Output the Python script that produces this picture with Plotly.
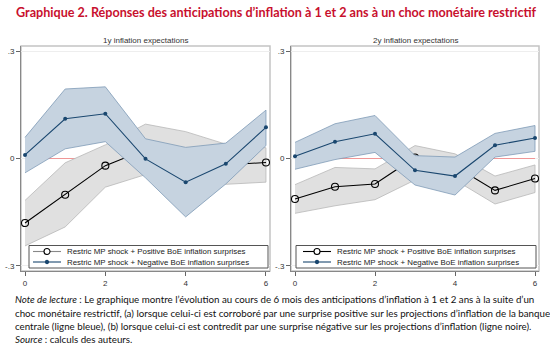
import plotly.graph_objects as go

W, H = 550, 353

horizon = [0, 1, 2, 3, 4, 5, 6]

# 1y inflation expectations
pos1_mean = [-0.180, -0.101, -0.020, 0.025, 0.005, -0.018, -0.011]
pos1_up = [-0.117, -0.012, 0.038, 0.096, 0.075, 0.040, 0.030]
pos1_lo = [-0.244, -0.191, -0.080, -0.045, -0.065, -0.072, -0.066]
neg1_mean = [0.010, 0.111, 0.125, -0.001, -0.066, -0.015, 0.087]
neg1_up = [0.059, 0.194, 0.200, 0.055, 0.031, 0.043, 0.135]
neg1_lo = [-0.040, 0.027, 0.047, -0.054, -0.163, -0.071, 0.036]

# 2y inflation expectations
pos2_mean = [-0.113, -0.079, -0.071, 0.003, -0.022, -0.089, -0.056]
pos2_up = [-0.073, -0.025, -0.029, 0.036, 0.013, -0.049, -0.018]
pos2_lo = [-0.153, -0.132, -0.115, -0.060, -0.060, -0.127, -0.095]
neg2_mean = [0.0065, 0.047, 0.069, -0.033, -0.049, 0.037, 0.057]
neg2_up = [0.045, 0.097, 0.120, 0.008, 0.004, 0.070, 0.092]
neg2_lo = [-0.030, -0.003, 0.017, -0.074, -0.102, 0.004, 0.020]

ytick_vals = [-0.3, 0, 0.3]
ytick_text = ["-.3", "0", ".3"]
xtick_vals = [0, 2, 4, 6]

panel_titles = ["1y inflation expectations", "2y inflation expectations"]
name_pos = "Restric MP shock + Positive BoE inflation surprises"
name_neg = "Restric MP shock + Negative BoE inflation surprises"

title_text = "Graphique 2. Réponses des anticipations d’inflation à 1 et 2 ans à un choc monétaire restrictif"
note_lines = [
    "<i>Note de lecture</i> : Le graphique montre l’évolution au cours de 6 mois des anticipations d’inflation à 1 et 2 ans à la suite d’un",
    "choc monétaire restrictif, (a) lorsque celui-ci est corroboré par une surprise positive sur les projections d’inflation de la banque",
    "centrale (ligne bleue), (b) lorsque celui-ci est contredit par une surprise négative sur les projections d’inflation (ligne noire).",
    "<i>Source</i> : calculs des auteurs.",
]

BLUE = "#1a476f"
BLUE_FILL = "#c6d3e0"
BLUE_EDGE = "#7f9bb6"
GRAY_FILL = "#e0e0e0"
GRAY_EDGE = "#b8b8b8"
AXFONT = dict(family="Liberation Sans, Arial", size=8, color="#333333")

fig = go.Figure()

panels = [
    (pos1_mean, pos1_up, pos1_lo, neg1_mean, neg1_up, neg1_lo, "x", "y"),
    (pos2_mean, pos2_up, pos2_lo, neg2_mean, neg2_up, neg2_lo, "x2", "y2"),
]

for pm, pu, pl, nm, nu, nl, xa, ya in panels:
    fig.add_trace(go.Scatter(x=[horizon[0], horizon[-1]], y=[0, 0], mode="lines",
                             line=dict(color="#f08080", width=0.8), showlegend=False,
                             xaxis=xa, yaxis=ya, hoverinfo="skip"))
    fig.add_trace(go.Scatter(x=horizon + horizon[::-1], y=pu + pl[::-1], fill="toself",
                             fillcolor=GRAY_FILL, mode="lines",
                             line=dict(color=GRAY_EDGE, width=0.8), showlegend=False,
                             xaxis=xa, yaxis=ya, hoverinfo="skip"))
    fig.add_trace(go.Scatter(x=horizon, y=pm, mode="lines+markers", name=name_pos,
                             line=dict(color="black", width=1.1),
                             marker=dict(symbol="circle-open", size=7, color="black",
                                         line=dict(width=1.1)),
                             showlegend=False, xaxis=xa, yaxis=ya))
    fig.add_trace(go.Scatter(x=horizon + horizon[::-1], y=nu + nl[::-1], fill="toself",
                             fillcolor=BLUE_FILL, mode="lines",
                             line=dict(color=BLUE_EDGE, width=0.8), showlegend=False,
                             xaxis=xa, yaxis=ya, hoverinfo="skip"))
    fig.add_trace(go.Scatter(x=horizon, y=nm, mode="lines+markers", name=name_neg,
                             line=dict(color=BLUE, width=1.1),
                             marker=dict(symbol="circle", size=4, color=BLUE),
                             showlegend=False, xaxis=xa, yaxis=ya))

left_dom = [21 / W, 270 / W]
right_dom = [291 / W, 539 / W]
ydom = [1 - 271 / H, 1 - 46 / H]

xcommon = dict(range=[-0.1, 6.1], tickvals=xtick_vals, ticks="outside", ticklen=4,
               tickcolor="#666666", tickfont=AXFONT, showgrid=False, zeroline=False,
               showline=True, linecolor="#888888", linewidth=1)
ycommon = dict(range=[-0.314, 0.314], tickvals=ytick_vals, ticktext=ytick_text,
               ticks="outside", ticklen=4, tickcolor="#666666", tickfont=AXFONT,
               showgrid=True, gridcolor="#eeeeee", gridwidth=1, zeroline=False,
               showline=True, linecolor="#888888", linewidth=1)

fig.update_layout(
    width=W, height=H,
    margin=dict(l=0, r=0, t=0, b=0),
    paper_bgcolor="white", plot_bgcolor="white",
    showlegend=False,
    xaxis=dict(domain=left_dom, anchor="y", **xcommon),
    yaxis=dict(domain=ydom, anchor="x", **ycommon),
    xaxis2=dict(domain=right_dom, anchor="y2", **xcommon),
    yaxis2=dict(domain=ydom, anchor="x2", **ycommon),
)

def px(x):
    return x / W

def py(y):
    return 1 - y / H

# light frame around each plot region
for xr, yr in [("x domain", "y domain"), ("x2 domain", "y2 domain")]:
    fig.add_shape(type="rect", xref=xr, yref=yr, x0=0, x1=1, y0=0, y1=1,
                  line=dict(color="#c4c4c4", width=1.5), layer="below")

# manual legends (compact, Stata-like)
LEGFONT = dict(family="Liberation Sans, Arial", size=7.9, color="#222222")
for bx0, bx1, k0, k1, tx, key_line_col in [(29, 268, 33, 61, 66, "#888888"),
                                           (296, 536, 303, 331, 336, "black")]:
    fig.add_shape(type="rect", xref="paper", yref="paper", x0=px(bx0), x1=px(bx1),
                  y0=py(268), y1=py(245.5), fillcolor="white",
                  line=dict(color="#555555", width=1))
    km = (k0 + k1) / 2
    for row_y, col, name, hollow in [(251.5, key_line_col, name_pos, True),
                                     (262, BLUE, name_neg, False)]:
        fig.add_shape(type="line", xref="paper", yref="paper", x0=px(k0), x1=px(k1),
                      y0=py(row_y), y1=py(row_y), line=dict(color=col, width=1.1))
        r = 3.0 if hollow else 1.6
        fig.add_shape(type="circle", xref="paper", yref="paper",
                      x0=px(km - r), x1=px(km + r), y0=py(row_y + r), y1=py(row_y - r),
                      fillcolor="white" if hollow else BLUE,
                      line=dict(color="black" if hollow else BLUE, width=1.1))
        fig.add_annotation(text=name, x=px(tx), y=py(row_y), xref="paper",
                           yref="paper", showarrow=False, xanchor="left",
                           yanchor="middle", font=LEGFONT, borderpad=0)

# panel titles
for t, dom in zip(panel_titles, [left_dom, right_dom]):
    fig.add_annotation(text=t, x=(dom[0] + dom[1]) / 2, y=py(40), xref="paper",
                       yref="paper", showarrow=False, xanchor="center", yanchor="middle",
                       font=dict(family="Liberation Sans, Arial", size=8, color="#333333"))

# main title
fig.add_annotation(text="<b>" + title_text + "</b>", x=px(14), y=py(13), xref="paper",
                   yref="paper", showarrow=False, xanchor="left", yanchor="middle",
                   font=dict(family="Lato", size=12.6, color="#c8102e"))

# notes
for line, yp in zip(note_lines, [299, 313, 326, 339]):
    fig.add_annotation(text=line, x=px(13), y=py(yp), xref="paper", yref="paper",
                       showarrow=False, xanchor="left", yanchor="middle",
                       font=dict(family="Lato", size=9.75, color="#111111"))

fig.write_html("out.html")
